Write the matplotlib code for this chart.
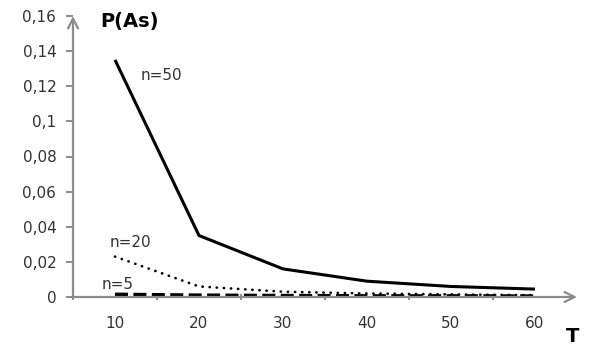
# P(As) against T for three values of n
import matplotlib.pyplot as plt
import numpy as np

T = [10, 20, 30, 40, 50, 60]
p_n50 = [0.135, 0.035, 0.016, 0.009, 0.006, 0.0045]
p_n20 = [0.023, 0.006, 0.003, 0.002, 0.0015, 0.001]
p_n5 = [0.0015, 0.001, 0.0008, 0.0006, 0.0006, 0.0005]
y_ticks = [0, 0.02, 0.04, 0.06, 0.08, 0.1, 0.12, 0.14, 0.16]
y_labels = ['0', '0,02', '0,04', '0,06', '0,08', '0,1', '0,12', '0,14', '0,16']

plt.rcParams['font.family'] = ['DejaVu Sans']
grey = '#8c8c8c'
txt = '#333333'

fig = plt.figure(figsize=(5.9, 3.48), dpi=100)
ax = fig.add_axes([73 / 590, 1 - 297 / 348, 504 / 590, 281 / 348])

x = np.arange(len(T))
ax.plot(x, p_n50, color='black', lw=2.2, solid_capstyle='butt')
ax.plot(x, p_n20, color='black', lw=1.9, linestyle=(0, (0.1, 2.6)), dash_capstyle='round')
ax.plot(x, p_n5, color='black', lw=2.6, linestyle=(0, (3.6, 1.5)))

ax.set_xlim(-0.5, 5.5)
ax.set_ylim(0, 0.16)

# axes drawn as grey arrows
for s in ax.spines.values():
    s.set_visible(False)
ax.annotate('', xy=(1.0, 0), xytext=(0, 0), xycoords='axes fraction',
            arrowprops=dict(arrowstyle='->', color=grey, lw=1.6, mutation_scale=18,
                            shrinkA=0, shrinkB=0))
ax.annotate('', xy=(0, 1.0), xytext=(0, 0), xycoords='axes fraction',
            arrowprops=dict(arrowstyle='->', color=grey, lw=1.6, mutation_scale=18,
                            shrinkA=0, shrinkB=0))

ax.set_yticks(y_ticks)
ax.set_yticklabels(y_labels)
ax.set_xticks(x)
ax.set_xticklabels([str(t) for t in T])
ax.set_xticks(np.arange(-0.5, 5.0, 1.0), minor=True)
ax.tick_params(axis='x', which='major', length=0, pad=14, labelsize=11, colors=txt)
ax.tick_params(axis='x', which='minor', length=5, width=1.4, color=grey, direction='inout')
ax.tick_params(axis='y', length=5, width=1.4, color=grey, labelsize=11,
               labelcolor=txt, pad=7)

ax.text(-0.18, 0.1566, 'P(As)', fontsize=14, fontweight='bold', va='center', ha='left')
fig.text(566 / 590, 1 - 336 / 348, 'T', fontsize=14, fontweight='bold', ha='left', va='center')
ax.text(0.3, 0.126, 'n=50', fontsize=11, color=txt, va='center')
ax.text(-0.06, 0.031, 'n=20', fontsize=11, color=txt, va='center')
ax.text(-0.155, 0.0074, 'n=5', fontsize=11, color=txt, va='center')

fig.savefig('out.png', dpi=100)
